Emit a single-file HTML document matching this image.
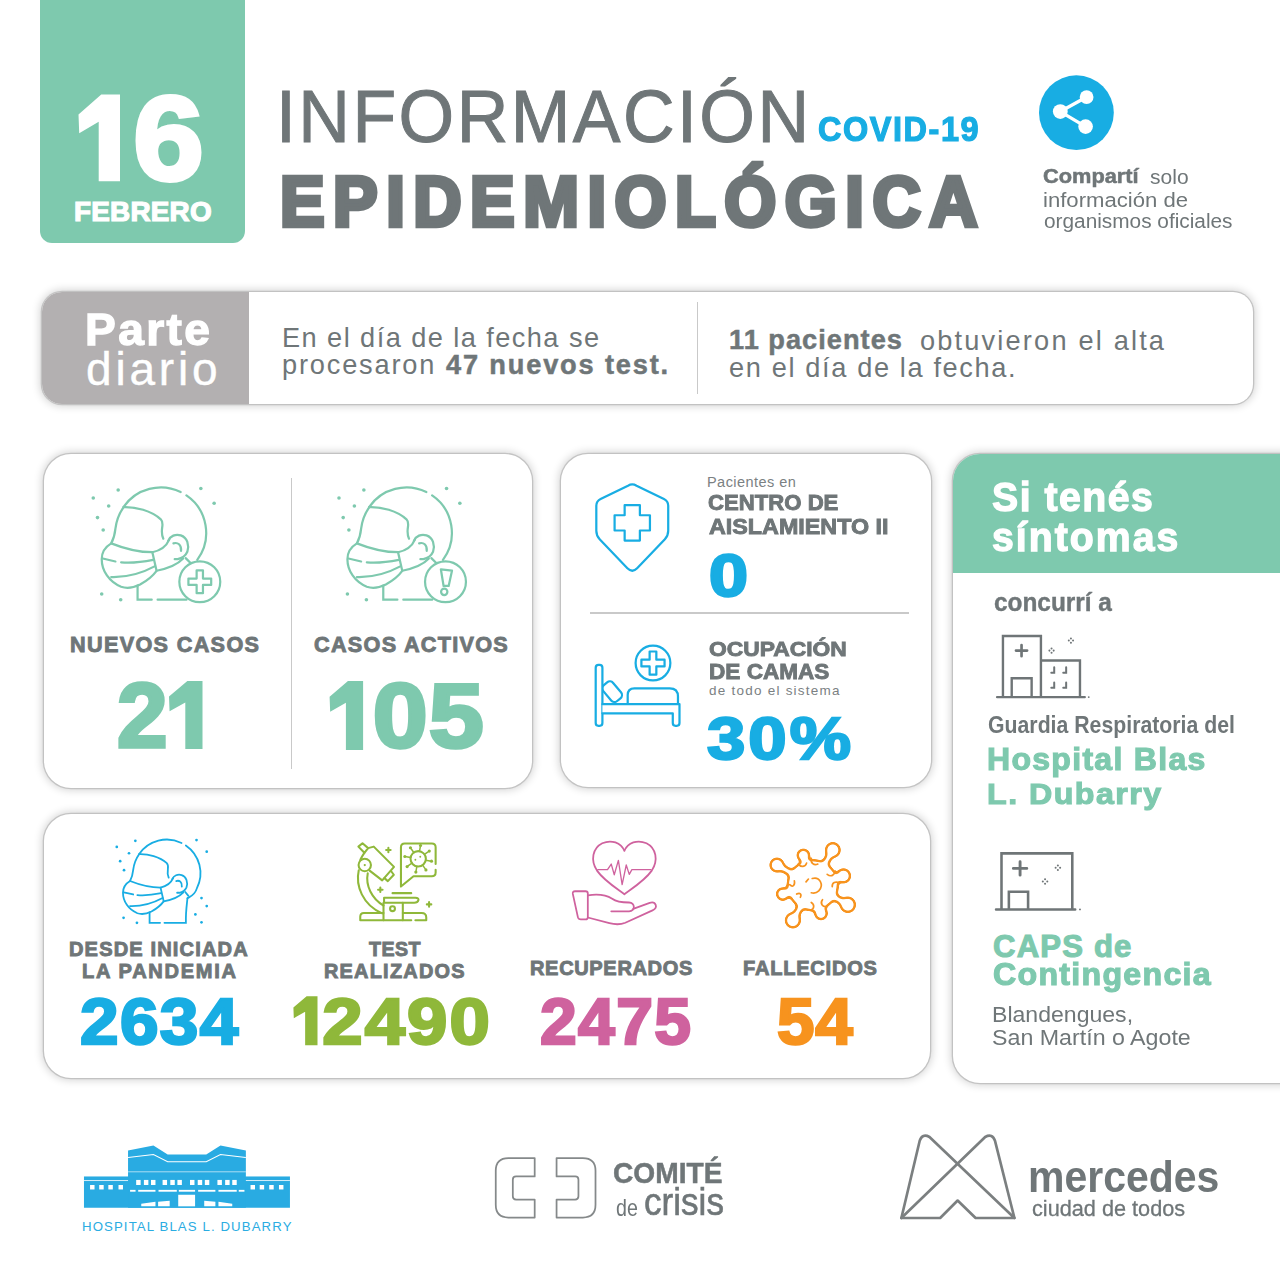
<!DOCTYPE html><html lang="es"><head><meta charset="utf-8"><title>Información Epidemiológica COVID-19</title><style>
html,body{margin:0;padding:0;background:#fff}
body{width:1280px;height:1280px;position:relative;overflow:hidden;font-family:"Liberation Sans",sans-serif}
.t{position:absolute;white-space:nowrap;line-height:1;transform-origin:0 0;margin:0}
.t b{font-weight:700;-webkit-text-stroke:0.5px}
.t .h1{color:transparent;-webkit-text-stroke:0 transparent}
.card{position:absolute;background:#fff;border-radius:27px;box-shadow:0 0 0 1.3px rgba(0,0,0,.14),0 0 9px 2px rgba(0,0,0,.18)}
.ln{position:absolute;background:#c9c9c9}
svg.ic{position:absolute;left:0;top:0;pointer-events:none}
</style></head><body><div style="position:absolute;left:40px;top:0;width:205px;height:243px;background:#7ec9ae;border-radius:0 0 12px 12px"></div><div class="card" style="left:41.5px;top:291.5px;width:1211px;height:112px;border-radius:20px;overflow:hidden"><div style="position:absolute;left:0;top:0;width:207px;height:112px;background:#b3b0b1"></div></div><div class="ln" style="left:696.6px;top:302px;width:1.4px;height:91.5px"></div><div class="card" style="left:43.5px;top:453.8px;width:488.7px;height:334.2px"></div><div class="ln" style="left:290.8px;top:477.5px;width:1.5px;height:291.5px"></div><div class="card" style="left:561px;top:453.8px;width:369.6px;height:333.4px"></div><div class="ln" style="left:589.6px;top:612.4px;width:319.4px;height:1.4px"></div><div class="card" style="left:43.5px;top:813.6px;width:886px;height:264.2px"></div><div class="card" style="left:953px;top:454px;width:360px;height:629.4px;overflow:hidden"><div style="position:absolute;left:0;top:0;width:360px;height:119px;background:#7ec9ae"></div></div><svg class="ic" width="1280" height="1280" viewBox="0 0 1280 1280"><circle cx="1076.4" cy="112.7" r="37.4" fill="#18ade3"/><g fill="#fff" stroke="#fff" stroke-width="3.4"><path d="M1086.6 97.1 L1060.3 111.6 L1085.6 126.6" fill="none"/><circle cx="1060.3" cy="111.6" r="7.4" stroke="none"/><circle cx="1086.6" cy="97.1" r="6.9" stroke="none"/><circle cx="1085.6" cy="126.6" r="7.3" stroke="none"/></g><g transform="translate(0,0) translate(30,440) scale(0.21093)" fill="none" stroke="#7ec9ae" color="#7ec9ae" stroke-width="10.5" stroke-linecap="round">
<path d="M443.7 317 A215 215 0 0 1 714.2 246.7 M741.6 262.7 A215 215 0 0 1 793 568"/>
<path d="M444 318 C500 316 575 335 620 376 C642 398 612 425 632 468"/>
<path d="M444 318 C425 345 410 380 405 420 C402 450 396 470 385 490"/>
<path d="M385 490 C355 508 340 535 340 565 C340 620 375 672 432 696 C462 706 492 700 522 685 C552 668 582 645 600 620 L580 532 C520 532 450 516 385 490 Z"/>
<path d="M345 562 L405 576 M432 580 C480 584 530 579 584 568 M385 650 C450 652 530 632 593 598"/>
<path d="M580 532 C612 525 646 505 660 472 M600 620 C650 610 700 590 726 562"/>
<path d="M655 478 C665 455 690 444 715 452 C746 462 756 500 746 530 C738 548 724 560 700 565 L686 565"/>
<path d="M680 490 C700 484 719 495 716 526"/>

<path d="M510 690 L510 757 L577 757 M605 757 L742 757"/>
<path d="M738 560 L766 588"/>
<circle cx="805" cy="672" r="97" fill="#fff"/>
<path d="M790 618 h30 v39 h39 v30 h-39 v39 h-30 v-39 h-39 v-30 h39 z" stroke-linejoin="round"/><circle cx="300" cy="275" r="8.5" stroke="none" fill="currentColor"/><circle cx="418" cy="237" r="8.5" stroke="none" fill="currentColor"/><circle cx="373" cy="313" r="8.5" stroke="none" fill="currentColor"/><circle cx="320" cy="368" r="8.5" stroke="none" fill="currentColor"/><circle cx="347" cy="427" r="8.5" stroke="none" fill="currentColor"/><circle cx="810" cy="230" r="8.5" stroke="none" fill="currentColor"/><circle cx="873" cy="300" r="8.5" stroke="none" fill="currentColor"/><circle cx="340" cy="730" r="8.5" stroke="none" fill="currentColor"/><circle cx="430" cy="757" r="8.5" stroke="none" fill="currentColor"/></g><g transform="translate(245.7,0) translate(30,440) scale(0.21093)" fill="none" stroke="#7ec9ae" color="#7ec9ae" stroke-width="10.5" stroke-linecap="round">
<path d="M443.7 317 A215 215 0 0 1 714.2 246.7 M741.6 262.7 A215 215 0 0 1 793 568"/>
<path d="M444 318 C500 316 575 335 620 376 C642 398 612 425 632 468"/>
<path d="M444 318 C425 345 410 380 405 420 C402 450 396 470 385 490"/>
<path d="M385 490 C355 508 340 535 340 565 C340 620 375 672 432 696 C462 706 492 700 522 685 C552 668 582 645 600 620 L580 532 C520 532 450 516 385 490 Z"/>
<path d="M345 562 L405 576 M432 580 C480 584 530 579 584 568 M385 650 C450 652 530 632 593 598"/>
<path d="M580 532 C612 525 646 505 660 472 M600 620 C650 610 700 590 726 562"/>
<path d="M655 478 C665 455 690 444 715 452 C746 462 756 500 746 530 C738 548 724 560 700 565 L686 565"/>
<path d="M680 490 C700 484 719 495 716 526"/>

<path d="M510 690 L510 757 L577 757 M605 757 L742 757"/>
<path d="M738 560 L766 588"/>
<circle cx="805" cy="672" r="97" fill="#fff"/>
<path d="M783 613 L836 619 L820 692 L796 692 Z" stroke-linejoin="round"/><circle cx="799" cy="720" r="15"/><circle cx="300" cy="275" r="8.5" stroke="none" fill="currentColor"/><circle cx="418" cy="237" r="8.5" stroke="none" fill="currentColor"/><circle cx="373" cy="313" r="8.5" stroke="none" fill="currentColor"/><circle cx="320" cy="368" r="8.5" stroke="none" fill="currentColor"/><circle cx="347" cy="427" r="8.5" stroke="none" fill="currentColor"/><circle cx="810" cy="230" r="8.5" stroke="none" fill="currentColor"/><circle cx="873" cy="300" r="8.5" stroke="none" fill="currentColor"/><circle cx="340" cy="730" r="8.5" stroke="none" fill="currentColor"/><circle cx="430" cy="757" r="8.5" stroke="none" fill="currentColor"/></g><g transform="translate(550,440) scale(0.30469)" fill="none" stroke="#18ade3" stroke-width="7.3" stroke-linejoin="round" stroke-linecap="round"><path d="M256 150 Q270 142 284 150 L374 194 Q388 201 388 216 L388 298 Q388 314 377 326 L286 421 Q270 437 254 421 L163 326 Q152 314 152 298 L152 216 Q152 201 166 194 Z"/><path d="M245 214 h50 v33 h33 v50 h-33 v33 h-50 v-33 h-33 v-50 h33 z"/></g><g transform="translate(550,600) scale(0.30469)" fill="none" stroke="#18ade3" stroke-width="7.3" stroke-linejoin="round" stroke-linecap="round"><rect x="-21" y="-34" width="42" height="68" rx="14" transform="translate(204,301) rotate(-40)"/><rect x="150" y="213" width="22" height="200" rx="9" fill="#fff"/><path d="M255 342 V312 Q255 290 277 290 H393 Q420 290 420 317 V342" fill="#fff"/><path d="M172 342 H425 V404 Q425 413 416 413 H412 Q403 413 403 404 V372 H172" fill="#fff"/><circle cx="338" cy="207" r="57"/><path d="M327 169 h22 v27 h27 v22 h-27 v27 h-22 v-27 h-27 v-22 h27 z"/></g><g transform="translate(940,440) scale(0.26560)" fill="none" stroke="#6f7577" color="#6f7577" stroke-width="9" stroke-linecap="round" stroke-linejoin="miter"><path d="M237 968 V738 H380 V968 M380 830 H527 V968 M215 968 H545 M270 968 V897 H345 V968"/><path d="M307 772 V814 M286 793 H328" stroke-width="10"/><path d="M430 856 V876 H419" stroke-width="7.5"/><path d="M475 856 V876 H464" stroke-width="7.5"/><path d="M430 913 V933 H419" stroke-width="7.5"/><path d="M475 913 V933 H464" stroke-width="7.5"/><circle cx="420" cy="785" r="3.8" stroke="none" fill="currentColor"/><circle cx="428" cy="793" r="3.8" stroke="none" fill="currentColor"/><circle cx="420" cy="801" r="3.8" stroke="none" fill="currentColor"/><circle cx="412" cy="793" r="3.8" stroke="none" fill="currentColor"/><circle cx="493" cy="747" r="3.8" stroke="none" fill="currentColor"/><circle cx="501" cy="755" r="3.8" stroke="none" fill="currentColor"/><circle cx="493" cy="763" r="3.8" stroke="none" fill="currentColor"/><circle cx="485" cy="755" r="3.8" stroke="none" fill="currentColor"/><circle cx="560" cy="968" r="3.5" stroke="none" fill="currentColor"/></g><g transform="translate(940,690) scale(0.32031)" fill="none" stroke="#6f7577" color="#6f7577" stroke-width="8" stroke-linecap="round" stroke-linejoin="miter"><path d="M192 685 V510 H413 V685 M175 685 H422 M215 685 V630 H275 V685"/><path d="M250 536 V578 M229 557 H271" stroke-width="9"/><circle cx="368" cy="548" r="3.2" stroke="none" fill="currentColor"/><circle cx="375" cy="555" r="3.2" stroke="none" fill="currentColor"/><circle cx="368" cy="562" r="3.2" stroke="none" fill="currentColor"/><circle cx="361" cy="555" r="3.2" stroke="none" fill="currentColor"/><circle cx="328" cy="591" r="3.2" stroke="none" fill="currentColor"/><circle cx="335" cy="598" r="3.2" stroke="none" fill="currentColor"/><circle cx="328" cy="605" r="3.2" stroke="none" fill="currentColor"/><circle cx="321" cy="598" r="3.2" stroke="none" fill="currentColor"/><circle cx="437" cy="685" r="3" stroke="none" fill="currentColor"/></g><g transform="translate(166.8,873.2) scale(0.15651) translate(-620,-440)" fill="none" stroke="#18ade3" color="#18ade3" stroke-width="11.5" stroke-linecap="round">
<path d="M443.7 317 A215 215 0 0 1 714.2 246.7 M741.6 262.7 A215 215 0 0 1 812 537 C800 580 770 590 752 600"/>
<path d="M444 318 C500 316 575 335 620 376 C642 398 612 425 632 468"/>
<path d="M444 318 C425 345 410 380 405 420 C402 450 396 470 385 490"/>
<path d="M385 490 C355 508 340 535 340 565 C340 620 375 672 432 696 C462 706 492 700 522 685 C552 668 582 645 600 620 L580 532 C520 532 450 516 385 490 Z"/>
<path d="M345 562 L405 576 M432 580 C480 584 530 579 584 568 M385 650 C450 652 530 632 593 598"/>
<path d="M580 532 C612 525 646 505 660 472 M600 620 C650 610 700 590 726 562"/>
<path d="M655 478 C665 455 690 444 715 452 C746 462 756 500 746 530 C738 548 724 560 700 565 L686 565"/>
<path d="M680 490 C700 484 719 495 716 526"/>
<path d="M510 690 L510 757 L577 757 M605 757 L742 757 C740 690 748 640 752 600"/><path d="M738 560 L758 585"/></g><g transform="translate(30,800) scale(0.22655)" color="#18ade3"><circle cx="383" cy="207" r="6" stroke="none" fill="currentColor"/><circle cx="465" cy="180" r="6" stroke="none" fill="currentColor"/><circle cx="437" cy="235" r="6" stroke="none" fill="currentColor"/><circle cx="398" cy="270" r="6" stroke="none" fill="currentColor"/><circle cx="415" cy="310" r="6" stroke="none" fill="currentColor"/><circle cx="735" cy="177" r="6" stroke="none" fill="currentColor"/><circle cx="780" cy="228" r="6" stroke="none" fill="currentColor"/><circle cx="757" cy="433" r="6" stroke="none" fill="currentColor"/><circle cx="780" cy="468" r="6" stroke="none" fill="currentColor"/><circle cx="730" cy="505" r="6" stroke="none" fill="currentColor"/><circle cx="757" cy="540" r="6" stroke="none" fill="currentColor"/><circle cx="413" cy="520" r="6" stroke="none" fill="currentColor"/><circle cx="472" cy="542" r="6" stroke="none" fill="currentColor"/></g><g transform="translate(280,820) scale(0.18751)" fill="none" stroke="#8fb83a" color="#8fb83a" stroke-width="11" stroke-linecap="round" stroke-linejoin="round"><path d="M420 268 C402 350 440 452 545 498 M468 284 C455 350 490 420 552 456"/><path d="M470 150 L500 142 L608 250 L545 322 L478 270" fill="#fff"/><path d="M557 310 L575 326 L607 292 L592 272"/><path d="M418 142 L440 124 L470 150 L450 175 Z" fill="#fff"/><path d="M450 175 C440 190 430 205 428 215"/><circle cx="452" cy="240" r="33" fill="#fff"/><circle cx="452" cy="240" r="6" fill="currentColor" stroke="none"/><path d="M600 390 H700"/><path d="M555 415 H722 Q742 415 738 428 Q734 441 716 441 H555 Z" fill="#fff"/><path d="M552 441 V535 M655 441 V535"/><circle cx="600" cy="473" r="13"/><path d="M552 496 H447 Q428 496 428 516 V535 H700 M655 496 H755 Q780 496 780 520 V535 H722"/><path d="M578 148 V172 M566 160 H590"/><path d="M535 360 V384 M523 372 H547"/><path d="M795 438 V462 M783 450 H807"/><path d="M665 125 H810 Q830 125 830 145 V235 M830 265 V280 Q830 300 810 300 H712 L645 355 V145 Q645 125 665 125"/><circle cx="737" cy="207" r="41"/><path d="M777.4 214.1 L800.0 218.1" stroke-width="8"/><circle cx="807.9" cy="219.5" r="8.5" stroke="none" fill="currentColor"/><path d="M760.5 240.6 L773.7 259.4" stroke-width="8"/><circle cx="778.3" cy="266.0" r="8.5" stroke="none" fill="currentColor"/><path d="M729.9 247.4 L725.9 270.0" stroke-width="8"/><circle cx="724.5" cy="277.9" r="8.5" stroke="none" fill="currentColor"/><path d="M703.4 230.5 L684.6 243.7" stroke-width="8"/><circle cx="678.0" cy="248.3" r="8.5" stroke="none" fill="currentColor"/><path d="M696.6 199.9 L674.0 195.9" stroke-width="8"/><circle cx="666.1" cy="194.5" r="8.5" stroke="none" fill="currentColor"/><path d="M713.5 173.4 L700.3 154.6" stroke-width="8"/><circle cx="695.7" cy="148.0" r="8.5" stroke="none" fill="currentColor"/><path d="M744.1 166.6 L748.1 144.0" stroke-width="8"/><circle cx="749.5" cy="136.1" r="8.5" stroke="none" fill="currentColor"/><path d="M770.6 183.5 L789.4 170.3" stroke-width="8"/><circle cx="796.0" cy="165.7" r="8.5" stroke="none" fill="currentColor"/><circle cx="722" cy="212" r="5" stroke="none" fill="currentColor"/><circle cx="748" cy="196" r="5" stroke="none" fill="currentColor"/></g><g transform="translate(510,820) scale(0.18751)" fill="none" stroke="#cf629e" stroke-width="9.5" stroke-linecap="round" stroke-linejoin="round"><path d="M610 165 C592 120 540 103 492 124 C440 150 428 215 464 270 C500 322 570 366 610 396 C650 366 720 322 756 270 C792 215 780 150 728 124 C680 103 628 120 610 165 Z"/><path d="M468 265 H520 L540 235 L556 292 L578 215 L598 345 L620 240 L636 290 L650 265 H752" stroke-width="7"/><path d="M347 380 H403 Q415 380 415 392 V518 Q415 530 403 530 H378 Q365 530 362 518 L335 394 Q333 380 347 380 Z"/><path d="M415 402 C460 395 510 398 545 420 C565 435 590 440 635 440 C668 440 670 487 635 487 H540"/><path d="M657 474 L745 442 C778 432 792 466 760 482 L615 548 C590 558 560 558 530 550 L415 520"/></g><g transform="translate(710,820) scale(0.18751)" stroke="none"><filter id="blob" x="-20%" y="-20%" width="140%" height="140%" color-interpolation-filters="sRGB"><feGaussianBlur in="SourceAlpha" stdDeviation="11" result="b"/><feComponentTransfer in="b" result="o"><feFuncA type="linear" slope="9" intercept="-2.7"/></feComponentTransfer><feComponentTransfer in="b" result="i"><feFuncA type="linear" slope="9" intercept="-6.3"/></feComponentTransfer><feComposite in="o" in2="i" operator="out" result="ring"/><feFlood flood-color="#f7931e" result="c"/><feComposite in="c" in2="ring" operator="in"/></filter><g filter="url(#blob)" fill="#000"><circle cx="548" cy="348" r="136"/><path d="M548 348 L655 160" stroke="#000" stroke-width="34" stroke-linecap="round"/><circle cx="655" cy="160" r="40"/><path d="M548 348 L498 188" stroke="#000" stroke-width="34" stroke-linecap="round"/><circle cx="498" cy="188" r="34"/><path d="M548 348 L357 240" stroke="#000" stroke-width="34" stroke-linecap="round"/><circle cx="357" cy="240" r="38"/><path d="M548 348 L712 298" stroke="#000" stroke-width="34" stroke-linecap="round"/><circle cx="712" cy="298" r="38"/><path d="M548 348 L735 452" stroke="#000" stroke-width="34" stroke-linecap="round"/><circle cx="735" cy="452" r="41"/><path d="M548 348 L388 395" stroke="#000" stroke-width="34" stroke-linecap="round"/><circle cx="388" cy="395" r="34"/><path d="M548 348 L442 535" stroke="#000" stroke-width="34" stroke-linecap="round"/><circle cx="442" cy="535" r="41"/><path d="M548 348 L592 498" stroke="#000" stroke-width="34" stroke-linecap="round"/><circle cx="592" cy="498" r="34"/></g><g fill="none" stroke="#f7931e" stroke-width="9" stroke-linecap="round"><path d="M545 312 C585 300 610 345 580 378 C570 388 555 392 540 388"/><path d="M512 330 L525 315"/><path d="M425 345 C440 360 455 350 450 325"/><path d="M462 395 C480 385 490 395 482 412"/><path d="M625 290 C645 305 665 295 668 272"/><path d="M652 355 C650 335 670 325 688 335"/><path d="M600 425 C585 445 600 465 622 462"/><path d="M540 440 C560 452 555 475 538 480"/><path d="M470 235 C485 255 510 250 515 230"/><path d="M540 205 C535 230 555 245 575 235"/></g></g><g transform="translate(60,1120) scale(0.20313)" stroke="none"><rect x="118" y="278" width="1014" height="154" fill="#29abe2"/><path d="M335 432 V150 L460 125 L530 170 H720 L790 125 L915 150 V432 Z" fill="#29abe2"/><g fill="none" stroke="#fff"><path d="M335 185 L460 170 L530 205 H720 L790 170 L915 185" stroke-width="5"/><path d="M335 255 H915" stroke-width="3"/><path d="M118 298 H335 M915 298 H1132" stroke-width="4"/></g><g fill="#fff"><rect x="148" y="320" width="22" height="22"/><rect x="193" y="320" width="22" height="22"/><rect x="238" y="320" width="22" height="22"/><rect x="288" y="320" width="22" height="22"/><rect x="938" y="320" width="22" height="22"/><rect x="983" y="320" width="22" height="22"/><rect x="1030" y="320" width="22" height="22"/><rect x="1078" y="320" width="22" height="22"/><rect x="375" y="295" width="22" height="25"/><rect x="413" y="295" width="22" height="25"/><rect x="448" y="295" width="22" height="25"/><rect x="505" y="295" width="22" height="25"/><rect x="543" y="295" width="22" height="25"/><rect x="578" y="295" width="22" height="25"/><rect x="640" y="295" width="22" height="25"/><rect x="678" y="295" width="22" height="25"/><rect x="713" y="295" width="22" height="25"/><rect x="775" y="295" width="22" height="25"/><rect x="813" y="295" width="22" height="25"/><rect x="848" y="295" width="22" height="25"/><rect x="345" y="344" width="27" height="9"/><rect x="385" y="344" width="85" height="9"/><rect x="485" y="344" width="90" height="9"/><rect x="585" y="344" width="80" height="9"/><rect x="680" y="344" width="85" height="9"/><rect x="780" y="344" width="90" height="9"/><rect x="880" y="344" width="28" height="9"/><rect x="582" y="368" width="83" height="57"/><path d="M400 425 V412 L470 403 V425 Z M483 425 V402 L540 398 V425 Z M710 425 V398 L765 402 V425 Z M780 425 V403 L848 412 V425 Z"/></g></g><g transform="translate(480,1130) scale(0.21877)" fill="none" stroke="#85898a" stroke-width="8" stroke-linejoin="round"><path d="M250 128 H130 Q72 128 72 186 V342 Q72 400 130 400 H250 V318 H165 Q150 318 150 303 V227 Q150 212 165 212 H250 Z"/><path d="M350 128 H470 Q528 128 528 186 V342 Q528 400 470 400 H350 V318 H435 Q450 318 450 303 V227 Q450 212 435 212 H350 Z"/></g><g transform="translate(880,1119) scale(0.28121)" fill="none" stroke="#7b7f80" stroke-width="9.5" stroke-linejoin="round" stroke-linecap="round"><path d="M76 352 L141 78 Q150 50 176 64 L478 352 H340 L276 290 L214 352 Z"/><path d="M76 352 L374 64 Q400 50 409 78 L478 352"/></g></svg><svg class="ic" width="1280" height="1280" viewBox="0 0 1280 1280"><polygon points="101.24,94.40 120.00,94.40 120.00,181.30 98.71,181.30 98.71,121.86 79.21,133.16 78.50,114.39" fill="#ffffff"/><polygon points="187.36,680.90 202.50,680.90 202.50,749.00 185.31,749.00 185.31,702.42 169.57,711.27 169.00,696.56" fill="#7ec9ae"/><polygon points="347.96,681.00 363.10,681.00 363.10,750.00 345.91,750.00 345.91,702.80 330.17,711.77 329.60,696.87" fill="#7ec9ae"/><polygon points="306.61,996.30 317.50,996.30 317.50,1045.30 305.14,1045.30 305.14,1011.78 293.81,1018.15 293.40,1007.57" fill="#8fb83a"/></svg><div class="t" id="d16" style="left:62.00px;top:78.79px;font-size:119.70px;font-weight:700;color:#ffffff;-webkit-text-stroke:4px;transform:scaleX(1.0653)"><span class="h1">1</span>6</div><div class="t" id="feb" style="left:74.00px;top:197.88px;font-size:27.91px;font-weight:700;color:#ffffff;-webkit-text-stroke:1.2px;letter-spacing:0.200px">FEBRERO</div><div class="t" id="info" style="left:276.00px;top:80.25px;font-size:74.13px;font-weight:400;color:#6f7678;-webkit-text-stroke:1.0px;letter-spacing:2.539px;transform:scaleX(0.9650)">INFORMACIÓN</div><div class="t" id="covid" style="left:818.00px;top:111.54px;font-size:34.16px;font-weight:700;color:#18ade3;-webkit-text-stroke:1.2px;letter-spacing:1.654px;transform:scaleX(0.9500)">COVID-19</div><div class="t" id="epi" style="left:280.00px;top:168.01px;font-size:69.62px;font-weight:700;color:#6f7678;-webkit-text-stroke:4.6px;letter-spacing:8.886px;transform:scaleX(0.9600)">EPIDEMIOLÓGICA</div><div class="t" id="sh1" style="left:1043.00px;top:167.49px;font-size:19.50px;font-weight:700;color:#6f7678;-webkit-text-stroke:0.5px;transform:scaleX(1.1174)">Compartí</div><div class="t" id="sh1b" style="left:1150.00px;top:167.99px;font-size:19.50px;font-weight:400;color:#6f7678;transform:scaleX(1.0783)">solo</div><div class="t" id="sh2" style="left:1043.00px;top:190.79px;font-size:19.50px;font-weight:400;color:#6f7678;transform:scaleX(1.1347)">información de</div><div class="t" id="sh3" style="left:1044.00px;top:211.79px;font-size:19.50px;font-weight:400;color:#6f7678;transform:scaleX(1.0671)">organismos oficiales</div><div class="t" id="parte" style="left:85.00px;top:309.25px;font-size:43.53px;font-weight:700;color:#ffffff;-webkit-text-stroke:1.3px;letter-spacing:2.241px;transform:scaleX(1.0600)">Parte</div><div class="t" id="diario" style="left:86.00px;top:346.04px;font-size:46.00px;font-weight:400;color:#ffffff;-webkit-text-stroke:0.4px;letter-spacing:3.800px">diario</div><div class="t" id="pd1" style="left:282.00px;top:323.52px;font-size:27.20px;font-weight:400;color:#6f7678;letter-spacing:1.430px">En el día de la fecha se</div><div class="t" id="pd2" style="left:282.00px;top:351.12px;font-size:27.20px;font-weight:400;color:#6f7678;letter-spacing:1.822px">procesaron</div><div class="t" id="pd2b" style="left:446.00px;top:350.62px;font-size:27.20px;font-weight:700;color:#6f7678;-webkit-text-stroke:0.5px;letter-spacing:1.836px">47 nuevos test.</div><div class="t" id="pd3" style="left:729.00px;top:326.02px;font-size:27.20px;font-weight:700;color:#6f7678;-webkit-text-stroke:0.5px;letter-spacing:1.018px">11 pacientes</div><div class="t" id="pd3b" style="left:920.00px;top:326.52px;font-size:27.20px;font-weight:400;color:#6f7678;letter-spacing:2.171px">obtuvieron el alta</div><div class="t" id="pd4" style="left:729.00px;top:354.12px;font-size:27.20px;font-weight:400;color:#6f7678;letter-spacing:1.629px">en el día de la fecha.</div><div class="t" id="nc" style="left:70.00px;top:633.82px;font-size:21.66px;font-weight:700;color:#6f7678;-webkit-text-stroke:0.9px;letter-spacing:1.318px">NUEVOS CASOS</div><div class="t" id="n21" style="left:117.00px;top:670.04px;font-size:91.10px;font-weight:700;color:#7ec9ae;-webkit-text-stroke:3.5px;transform:scaleX(0.9982)">2<span class="h1">1</span></div><div class="t" id="ca" style="left:314.00px;top:633.82px;font-size:21.66px;font-weight:700;color:#6f7678;-webkit-text-stroke:0.9px;letter-spacing:1.275px">CASOS ACTIVOS</div><div class="t" id="n105" style="left:317.00px;top:669.99px;font-size:91.48px;font-weight:700;color:#7ec9ae;-webkit-text-stroke:3.5px;letter-spacing:0.833px;transform:scaleX(1.0800)"><span class="h1">1</span>05</div><div class="t" id="pac" style="left:707.00px;top:475.10px;font-size:14.53px;font-weight:400;color:#7b8183;letter-spacing:0.436px">Pacientes en</div><div class="t" id="cen" style="left:708.00px;top:492.04px;font-size:21.80px;font-weight:700;color:#6f7678;-webkit-text-stroke:0.9px;transform:scaleX(1.0157)">CENTRO DE</div><div class="t" id="ais" style="left:709.00px;top:515.64px;font-size:21.80px;font-weight:700;color:#6f7678;-webkit-text-stroke:0.9px;transform:scaleX(1.0691)">AISLAMIENTO II</div><div class="t" id="n0" style="left:709.00px;top:546.71px;font-size:59.04px;font-weight:700;color:#18ade3;-webkit-text-stroke:2.5px;transform:scaleX(1.1879)">0</div><div class="t" id="ocu" style="left:709.00px;top:638.98px;font-size:20.93px;font-weight:700;color:#6f7678;-webkit-text-stroke:0.9px;transform:scaleX(1.0905)">OCUPACIÓN</div><div class="t" id="dec" style="left:709.00px;top:661.42px;font-size:21.66px;font-weight:700;color:#6f7678;-webkit-text-stroke:0.9px;transform:scaleX(1.0423)">DE CAMAS</div><div class="t" id="dts" style="left:709.00px;top:684.23px;font-size:13.50px;font-weight:400;color:#7b8183;letter-spacing:1.235px">de todo el sistema</div><div class="t" id="n30" style="left:707.00px;top:710.08px;font-size:58.90px;font-weight:700;color:#18ade3;-webkit-text-stroke:2.3px;letter-spacing:2.564px;transform:scaleX(1.1700)">30%</div><div class="t" id="sit" style="left:992.00px;top:476.96px;font-size:41.28px;font-weight:700;color:#ffffff;-webkit-text-stroke:1.3px;letter-spacing:1.564px;transform:scaleX(0.9500)">Si tenés</div><div class="t" id="sin" style="left:992.00px;top:517.36px;font-size:41.28px;font-weight:700;color:#ffffff;-webkit-text-stroke:1.3px;letter-spacing:2.150px;transform:scaleX(0.9500)">síntomas</div><div class="t" id="con" style="left:994.00px;top:589.60px;font-size:25.20px;font-weight:700;color:#6f7678;-webkit-text-stroke:0.4px;transform:scaleX(0.9683)">concurrí a</div><div class="t" id="gua" style="left:988.00px;top:714.21px;font-size:23.26px;font-weight:700;color:#6f7678;transform:scaleX(0.9145)">Guardia Respiratoria del</div><div class="t" id="hos" style="left:987.00px;top:745.22px;font-size:30.81px;font-weight:700;color:#7ec9ae;-webkit-text-stroke:1.1px;letter-spacing:1.234px;transform:scaleX(1.0400)">Hospital Blas</div><div class="t" id="dub" style="left:987.00px;top:779.28px;font-size:30.09px;font-weight:700;color:#7ec9ae;-webkit-text-stroke:1.1px;letter-spacing:1.371px;transform:scaleX(1.0700)">L. Dubarry</div><div class="t" id="cap" style="left:993.00px;top:930.87px;font-size:31.10px;font-weight:700;color:#7ec9ae;-webkit-text-stroke:1.1px;letter-spacing:1.183px">CAPS de</div><div class="t" id="cont" style="left:993.00px;top:959.64px;font-size:30.96px;font-weight:700;color:#7ec9ae;-webkit-text-stroke:1.1px;letter-spacing:1.206px;transform:scaleX(1.0400)">Contingencia</div><div class="t" id="bla" style="left:992.00px;top:1003.85px;font-size:22.38px;font-weight:400;color:#6f7678;transform:scaleX(1.0306)">Blandengues,</div><div class="t" id="sma" style="left:992.00px;top:1026.85px;font-size:22.38px;font-weight:400;color:#6f7678;transform:scaleX(1.0377)">San Martín o Agote</div><div class="t" id="des" style="left:69.00px;top:938.82px;font-size:20.06px;font-weight:700;color:#6f7678;-webkit-text-stroke:0.9px;letter-spacing:1.146px">DESDE INICIADA</div><div class="t" id="lap" style="left:82.00px;top:961.22px;font-size:20.06px;font-weight:700;color:#6f7678;-webkit-text-stroke:0.9px;letter-spacing:1.690px">LA PANDEMIA</div><div class="t" id="n2634" style="left:80.00px;top:990.12px;font-size:64.75px;font-weight:700;color:#18ade3;-webkit-text-stroke:2.5px;letter-spacing:1.308px;transform:scaleX(1.0700)">2634</div><div class="t" id="test" style="left:369.00px;top:940.34px;font-size:19.62px;font-weight:700;color:#6f7678;-webkit-text-stroke:0.9px;letter-spacing:0.433px">TEST</div><div class="t" id="rea" style="left:324.00px;top:962.39px;font-size:19.91px;font-weight:700;color:#6f7678;-webkit-text-stroke:0.9px;letter-spacing:1.233px">REALIZADOS</div><div class="t" id="n12490" style="left:280.00px;top:990.12px;font-size:64.75px;font-weight:700;color:#8fb83a;-webkit-text-stroke:2.5px;letter-spacing:1.815px;transform:scaleX(1.1200)"><span class="h1">1</span>2490</div><div class="t" id="rec" style="left:530.00px;top:957.82px;font-size:20.06px;font-weight:700;color:#6f7678;-webkit-text-stroke:0.9px;letter-spacing:0.640px">RECUPERADOS</div><div class="t" id="n2475" style="left:540.00px;top:990.12px;font-size:64.75px;font-weight:700;color:#cf629e;-webkit-text-stroke:2.5px;letter-spacing:1.307px;transform:scaleX(1.0200)">2475</div><div class="t" id="fal" style="left:743.00px;top:957.82px;font-size:20.06px;font-weight:700;color:#6f7678;-webkit-text-stroke:0.9px;letter-spacing:0.778px">FALLECIDOS</div><div class="t" id="n54" style="left:777.00px;top:990.12px;font-size:64.75px;font-weight:700;color:#f7931e;-webkit-text-stroke:2.5px;letter-spacing:0.865px;transform:scaleX(1.0400)">54</div><div class="t" id="hbl" style="left:82.00px;top:1220.15px;font-size:13.23px;font-weight:400;color:#2aace2;letter-spacing:1.100px">HOSPITAL BLAS L. DUBARRY</div><div class="t" id="com" style="left:613.00px;top:1157.77px;font-size:29.51px;font-weight:700;color:#6f7678;-webkit-text-stroke:0.5px;transform:scaleX(0.9545)">COMITÉ</div><div class="t" id="de" style="left:616.00px;top:1195.53px;font-size:24.00px;font-weight:400;color:#6f7678;transform:scaleX(0.8196)">de</div><div class="t" id="cri" style="left:644.00px;top:1182.79px;font-size:38.39px;font-weight:400;color:#6f7678;-webkit-text-stroke:0.6px;transform:scaleX(0.9151)">crisis</div><div class="t" id="mer" style="left:1028.00px;top:1155.36px;font-size:44.13px;font-weight:700;color:#6f7678;transform:scaleX(0.9283)">mercedes</div><div class="t" id="ciu" style="left:1032.00px;top:1198.15px;font-size:21.21px;font-weight:400;color:#6f7678;-webkit-text-stroke:0.3px;transform:scaleX(1.0227)">ciudad de todos</div></body></html>
